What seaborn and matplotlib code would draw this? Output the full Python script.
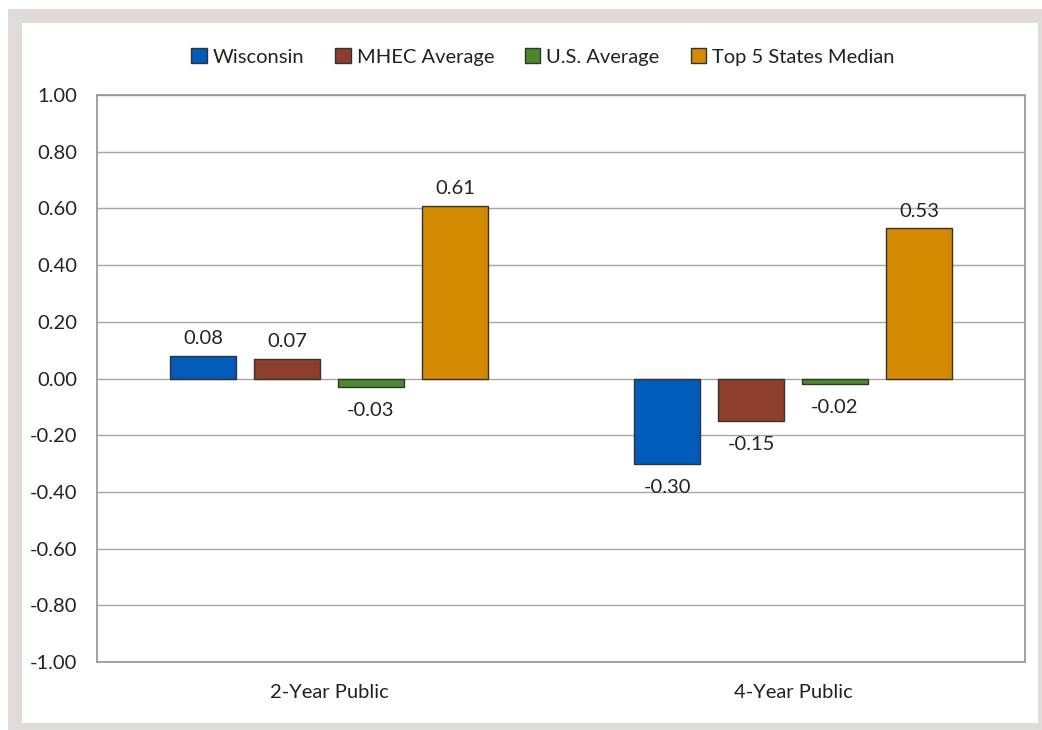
import matplotlib
matplotlib.use("Agg")
import matplotlib.pyplot as plt
from matplotlib.patches import Rectangle
import seaborn as sns
import pandas as pd

categories = ["2-Year Public", "4-Year Public"]
series = ["Wisconsin", "MHEC Average", "U.S. Average", "Top 5 States Median"]
wisconsin = [0.08, -0.30]
mhec = [0.07, -0.15]
us_avg = [-0.03, -0.02]
top5 = [0.61, 0.53]
y_ticks = [-1.0, -0.8, -0.6, -0.4, -0.2, 0.0, 0.2, 0.4, 0.6, 0.8, 1.0]

colors = ["#005BBB", "#8E3E2C", "#4A8A2A", "#D48A00"]

rows = []
for name, vals in zip(series, [wisconsin, mhec, us_avg, top5]):
    for cat, v in zip(categories, vals):
        rows.append({"Category": cat, "Series": name, "Value": v})
df = pd.DataFrame(rows)

sns.set_theme(style="white")
plt.rcParams["font.family"] = ["Lato", "DejaVu Sans"]
FS = 14.5
TC = "#222222"

W, H = 1042, 730
fig = plt.figure(figsize=(W / 100, H / 100), dpi=100)
fig.patch.set_facecolor("white")

# outer grey frame
fig.patches.append(Rectangle((8 / W, 0), 1 - 8 / W, 1 - 9 / H, transform=fig.transFigure,
                             facecolor="#DEDBD8", edgecolor="none", zorder=-10))
fig.patches.append(Rectangle((22 / W, 7 / H), (1038 - 22) / W, (723 - 23) / H,
                             transform=fig.transFigure, facecolor="white",
                             edgecolor="none", zorder=-9))

ax = fig.add_axes([97 / W, 1 - 662 / H, (1025 - 97) / W, (662 - 95) / H])
ax.set_zorder(5)
ax.set_facecolor("white")

sns.barplot(data=df, x="Category", y="Value", hue="Series", order=categories,
            hue_order=series, palette=colors, saturation=1, width=0.724, gap=0.214,
            edgecolor="#333333", linewidth=1.0, ax=ax, zorder=3, legend=True)

ax.set_ylim(-1.0, 1.0)
ax.set_xlim(-0.5, 1.5)
ax.set_yticks(y_ticks)
ax.set_yticklabels([f"{t:.2f}" for t in y_ticks], fontsize=FS, color=TC)
ax.tick_params(axis="y", length=0, pad=14)
ax.tick_params(axis="x", length=0, pad=16, labelsize=FS, labelcolor=TC)
ax.set_xlabel("")
ax.set_ylabel("")
ax.yaxis.grid(True, color="#A6A6A6", linewidth=1.0, zorder=0)
ax.set_axisbelow(True)
for s in ax.spines.values():
    s.set_visible(True)
    s.set_color("#9A9A9A")
    s.set_linewidth(1.3)

for cont in ax.containers:
    for bar in cont:
        h = bar.get_height()
        x = bar.get_x() + bar.get_width() / 2
        if h >= 0:
            ax.annotate(f"{h:.2f}", (x, h), xytext=(0, 6), textcoords="offset points",
                        ha="center", va="bottom", fontsize=FS, color=TC)
        else:
            ax.annotate(f"{h:.2f}", (x, h), xytext=(0, -11), textcoords="offset points",
                        ha="center", va="top", fontsize=FS, color=TC)

handles, labels = ax.get_legend_handles_labels()
ax.get_legend().remove()
fig.legend(handles, labels, loc="center", bbox_to_anchor=(543 / W, 1 - 57 / H),
           ncol=4, frameon=False, fontsize=FS, handlelength=0.75, handleheight=0.75,
           handletextpad=0.3, columnspacing=1.55, labelcolor=TC)

fig.savefig("out.png", dpi=100, facecolor=fig.get_facecolor())
